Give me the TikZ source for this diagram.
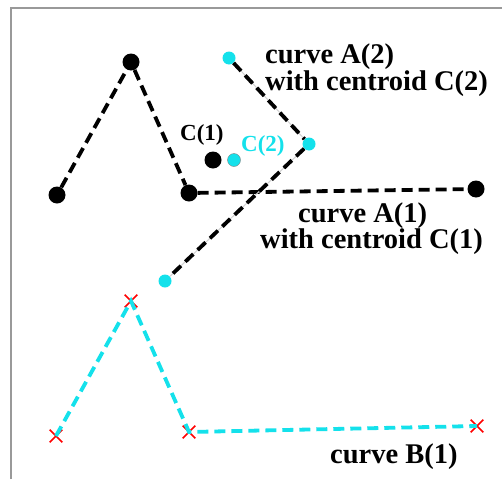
\documentclass[tikz,border=0pt]{standalone}
\usepackage{fontspec}
\setmainfont{Liberation Serif}
\usetikzlibrary{positioning,shapes.misc}
\definecolor{aqua}{RGB}{20,225,235}

\begin{document}
\begin{tikzpicture}[x=1pt,y=-1pt,
  bdot/.style={circle,fill=black,inner sep=0pt,minimum size=17pt},
  cdot/.style={circle,fill=aqua,inner sep=0pt,minimum size=13pt},
  xmark/.style={cross out,draw=red,line width=1.6pt,inner sep=0pt,minimum size=11pt},
  lbl/.style={font=\bfseries\fontsize{28.5}{30}\selectfont,anchor=base west,inner sep=0pt},
  clbl/.style={font=\bfseries\fontsize{23}{25}\selectfont,anchor=base west,inner sep=0pt},
  dline/.style={line width=3.8pt,dash pattern=on 11pt off 6pt}]
\useasboundingbox (0,0) rectangle (502,479);
\draw[gray!80,line width=1.2pt] (11,479)--(11,8)--(502,8);
% curve A(1)
\node[bdot] (a1) at (57,195) {};\node[bdot] (a2) at (131,62) {};
\node[bdot] (a3) at (189,193) {};\node[bdot] (a4) at (476,189) {};
\draw[dline] (a1)--(a2)--(a3)--(a4);
% curve A(2)
\node[cdot] (b1) at (229,58) {};\node[cdot] (b2) at (309,144) {};\node[cdot] (b3) at (165,281) {};
\draw[gray!35,line width=1pt] (b1)--(b2)--(b3);
\draw[dline] (b1)--(b2)--(b3);
% centroids
\node[bdot] (c1) at (213,160) {};
\node[cdot,draw=gray,line width=0.4pt] (c2) at (234,160) {};
\node[clbl] (c1lbl) at (180,140) {C(1)};
\node[clbl,text=aqua] (c2lbl) at (241,151) {C(2)};
% curve B(1)
\node[xmark] (x1) at (56,436) {};\node[xmark] (x2) at (131,301) {};
\node[xmark] (x3) at (189,432) {};\node[xmark] (x4) at (477,426) {};
\draw[dline,aqua] (x1.center)--(x2.center)--(x3.center)--(x4.center);
% labels
\node[lbl] (alab2) at (265,63) {curve A(2)};
\node[lbl] (alab2b) at (265,90) {with centroid C(2)};
\node[lbl] (alab1) at (298,222) {curve A(1)};
\node[lbl] (alab1b) at (260,248) {with centroid C(1)};
\node[lbl] (blab1) at (330,463) {curve B(1)};
\end{tikzpicture}
\end{document}
